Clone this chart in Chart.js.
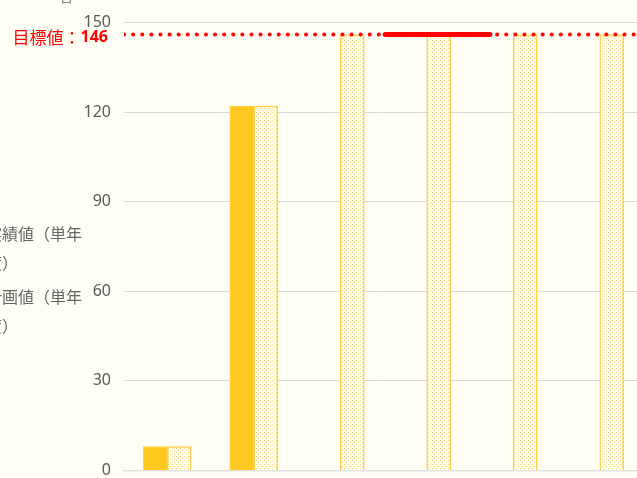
<!DOCTYPE html>
<html lang="ja">
<head>
    <meta charset="UTF-8">
    <title>目標値と実績値</title>
    <script src="https://cdn.jsdelivr.net/npm/chart.js"></script>
    <style>
        html, body { margin: 0; padding: 0; background: #FFFEF5; overflow: hidden; }
        body { width: 637px; height: 478px; position: relative; font-family: "Noto Sans CJK JP", "Noto Sans", sans-serif; }
        #chartContainer { position: absolute; left: 0; top: 0; width: 645px; height: 493px; }
        .legendText { position: absolute; font-size: 16px; color: #666666; white-space: nowrap; line-height: 18px; }
    </style>
</head>
<body>
    <div id="chartContainer">
        <canvas id="chartCanvas"></canvas>
    </div>
    <div class="legendText" style="left:-14px; top:224px;">実績値（単年</div>
    <div class="legendText" style="left:-14px; top:253px;">度）</div>
    <div class="legendText" style="left:-14px; top:287px;">計画値（単年</div>
    <div class="legendText" style="left:-14px; top:316px;">度）</div>
    <div class="legendText" style="left:61px; top:-11px; font-size:11px;">口</div>

    <script>
        const categories = ['1', '2', '3', '4', '5', '6'];
        const actualValues = [8, 122, null, null, null, null];   // 実績値（単年度）
        const planValues = [8, 122, 146, 146, 146, 146];         // 計画値（単年度）
        const targetValue = 146;
        const yTicks = [0, 30, 60, 90, 120, 150];
        const highlightRange = [3.02, 4.23];

        function makeDotPattern() {
            const c = document.createElement('canvas');
            c.width = 4; c.height = 4;
            const g = c.getContext('2d');
            g.fillStyle = '#FFFEF5';
            g.fillRect(0, 0, 4, 4);
            g.fillStyle = '#FFD560';
            g.fillRect(0, 0, 1, 1);
            g.fillRect(2, 2, 1, 1);
            return g.createPattern(c, 'repeat');
        }

        // label for the target line, placed on the y scale
        const targetLabel = {
            id: 'targetLabel',
            afterDraw(chart) {
                const ctx = chart.ctx;
                const y = chart.scales.y.getPixelForValue(targetValue) + 3;
                ctx.save();
                ctx.fillStyle = '#FF0000';
                ctx.textBaseline = 'middle';
                ctx.textAlign = 'right';
                ctx.font = 'bold 16px "Noto Sans", sans-serif';
                const num = String(targetValue);
                ctx.fillText(num, 108, y);
                const w = ctx.measureText(num).width;
                ctx.font = '17px "Noto Sans CJK JP", sans-serif';
                ctx.fillText('目標値：', 108 - w, y);
                ctx.restore();
            }
        };

        const ctx = document.getElementById('chartCanvas').getContext('2d');
        new Chart(ctx, {
            type: 'bar',
            data: {
                labels: categories,
                datasets: [
                    {
                        type: 'line',
                        label: '目標値',
                        xAxisID: 'xt',
                        data: [{ x: 0, y: targetValue }, { x: 6, y: targetValue }],
                        borderColor: '#FF0000',
                        borderWidth: 4,
                        borderDash: [0.1, 9],
                        borderCapStyle: 'round',
                        pointRadius: 0,
                        order: 0
                    },
                    {
                        type: 'line',
                        label: '目標値（当年）',
                        xAxisID: 'xt',
                        data: [{ x: highlightRange[0], y: targetValue }, { x: highlightRange[1], y: targetValue }],
                        borderColor: '#FF0000',
                        borderWidth: 5,
                        borderCapStyle: 'round',
                        pointRadius: 0,
                        order: 0
                    },
                    {
                        label: '実績値（単年度）',
                        data: actualValues,
                        backgroundColor: '#FFC81E',
                        borderColor: '#FFD450',
                        borderWidth: 1,
                        barThickness: 24,
                        order: 1
                    },
                    {
                        label: '計画値（単年度）',
                        data: planValues,
                        backgroundColor: makeDotPattern(),
                        borderColor: '#FFD04A',
                        borderWidth: 1.5,
                        barThickness: 24,
                        order: 1
                    }
                ]
            },
            options: {
                responsive: true,
                maintainAspectRatio: false,
                animation: false,
                layout: { padding: { top: 17, bottom: 7, left: 0, right: 2 } },
                plugins: { legend: { display: false }, tooltip: { enabled: false } },
                scales: {
                    x: {
                        grid: { display: false, drawTicks: false },
                        border: { color: '#E2E2E2', width: 1.5 },
                        ticks: { display: false },
                        afterFit(scale) { scale.height = 0; }
                    },
                    xt: {
                        type: 'linear',
                        display: false,
                        offset: false,
                        min: 0,
                        max: 6
                    },
                    y: {
                        min: 0,
                        max: 150,
                        afterFit(scale) { scale.width = 124; },
                        afterBuildTicks(scale) { scale.ticks = yTicks.map(v => ({ value: v })); },
                        grid: { color: '#DADADA', lineWidth: 1, drawTicks: false },
                        border: { display: false },
                        ticks: {
                            padding: 13,
                            color: '#595959',
                            font: { size: 16, family: '"Noto Sans", sans-serif' }
                        }
                    }
                }
            },
            plugins: [targetLabel]
        });
    </script>
</body>
</html>
